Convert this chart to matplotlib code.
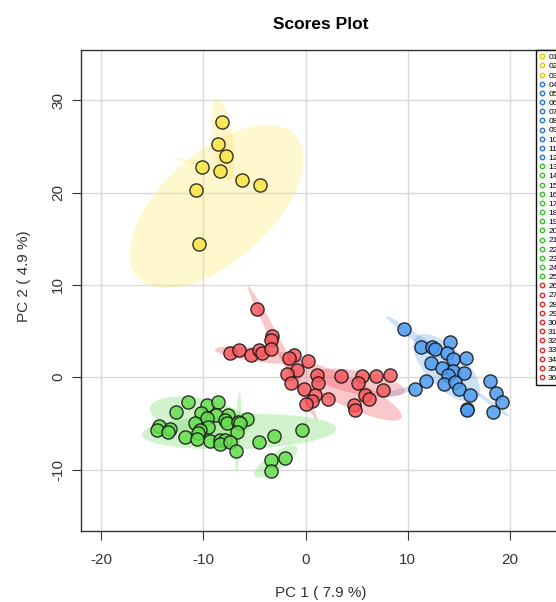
import numpy as np
import matplotlib
matplotlib.use("Agg")
import matplotlib.pyplot as plt
from matplotlib.patches import Ellipse
from matplotlib.lines import Line2D

plt.rcParams['font.family'] = ['Liberation Sans', 'DejaVu Sans']
plt.rcParams['axes.unicode_minus'] = False

# scores, by colour cluster
yellow_x = [-8.14, -8.53, -7.75, -10.10, -8.40, -6.18, -4.48, -10.74, -10.39]
yellow_y = [27.6, 25.3, 24.0, 22.8, 22.3, 21.4, 20.8, 20.3, 14.4]

red_x = [-4.72, -3.25, -3.41, -7.39, -6.51, -5.36, -4.55, -4.23, -3.41, -1.10,
         -1.59, 0.28, -0.80, -1.78, 1.09, -1.42, 1.25, -0.15, 0.93, 0.64,
         0.05, 2.20, 3.50, 5.56, 6.87, 8.27, 5.14, 7.61, 5.82, 6.24, 4.75, 4.84]
red_y = [7.42, 4.46, 4.03, 2.59, 2.91, 2.37, 2.95, 2.66, 3.02, 2.44,
         2.05, 1.79, 0.81, 0.31, 0.24, -0.66, -0.66, -1.28, -1.93, -2.55,
         -2.90, -2.39, 0.10, 0.16, 0.16, 0.21, -0.66, -1.42, -1.93, -2.36, -3.01, -3.55]

green_x = [-11.53, -12.70, -9.67, -8.53, -10.22, -8.76, -9.67, -7.61, -5.69, -14.33,
           -14.50, -13.26, -13.42, -10.81, -9.51, -7.88, -7.71, -6.58, -6.41, -10.32,
           -10.49, -6.73, -11.79, -10.65, -9.34, -8.37, -7.88, -8.37, -7.39, -6.80,
           -4.55, -3.08, -0.37, -3.41, -1.98, -3.38]
green_y = [-2.72, -3.80, -3.01, -2.72, -3.91, -4.10, -4.45, -4.10, -4.53, -5.25,
           -5.72, -5.61, -5.97, -5.00, -5.36, -4.64, -5.00, -4.82, -5.00, -5.72,
           -6.08, -5.90, -6.51, -6.73, -6.91, -6.80, -6.80, -7.27, -6.99, -7.96,
           -7.02, -6.37, -5.72, -8.97, -8.75, -10.16]

blue_x = [9.64, 11.30, 12.35, 12.67, 14.14, 13.82, 14.40, 15.70, 12.28, 13.33,
          14.46, 15.51, 13.97, 11.79, 10.71, 13.58, 14.63, 15.05, 16.10, 18.05,
          18.64, 19.26, 18.32, 15.77, 15.80]
blue_y = [5.19, 3.31, 3.31, 3.02, 3.81, 2.66, 1.97, 2.11, 1.57, 0.96,
          0.70, 0.42, 0.24, -0.41, -1.28, -0.77, -0.49, -1.28, -1.93, -0.38,
          -1.75, -2.65, -3.80, -3.48, -3.60]

# 95% ellipses: centre x, centre y, width, height, angle
yellow_ell = [(-8.7, 18.5, 21.8, 11.2, 47), (-8.1, 25.7, 8.8, 2.0, 97), (-8.3, 22.2, 9.9, 0.35, -20)]
red_ell = [(-2.25, 2.6, 16.0, 0.9, -65), (-4.6, 2.4, 8.6, 1.5, -8),
           (3.7, -1.4, 12.9, 3.0, -28), (5.3, -0.6, 9.0, 2.5, -12)]
green_ell = [(-6.5, -5.9, 19.0, 3.8, 2), (-10.3, -4.3, 10.0, 4.0, -12),
             (-6.6, -5.9, 8.7, 0.5, 88), (-2.9, -9.15, 5.2, 1.8, 38)]
blue_ell = [(13.8, 1.0, 9.0, 4.0, -50), (11.2, 4.0, 8.3, 0.8, -38),
            (18.2, -2.85, 4.6, 0.4, -39), (9.1, -1.6, 3.8, 0.6, 17)]

group_labels = [f"{i:02d}" for i in range(1, 37)]
group_counts = [3, 9, 13, 11]   # yellow, blue, green, red

ell_cols = ['#FFE34D', '#4A90E2', '#5BD64B', '#F03C46']
pt_cols = ['#F9E547', '#4D9BEF', '#66DD4F', '#F55A5F']
leg_cols = ['#E8C800', '#2F74D8', '#3EBB2E', '#E82828']

fig = plt.figure(figsize=(5.56, 6.02), dpi=100)
ax = fig.add_axes([81/556, 1-531/602, 480/556, 481/602])

ax.set_xlim(-21.97, 25.0)
ax.set_ylim(-16.66, 35.45)
ax.set_xticks([-20, -10, 0, 10, 20])
ax.set_yticks([-10, 0, 10, 20, 30])
ax.grid(True, color='#DADADA', lw=1)
ax.set_axisbelow(True)

for ells, c in zip([yellow_ell, blue_ell, green_ell, red_ell], ell_cols):
    for (cx, cy, w, h, a) in ells:
        ax.add_patch(Ellipse((cx, cy), w, h, angle=a, facecolor=c, edgecolor='none', alpha=0.28, zorder=1))

for xs, ys, c in zip([yellow_x, blue_x, green_x, red_x], [yellow_y, blue_y, green_y, red_y], pt_cols):
    ax.scatter(xs, ys, s=90, facecolor=c, edgecolor='#111111', linewidth=1.0, alpha=0.85, zorder=3)

for s in ax.spines.values():
    s.set_color('#333333')
    s.set_linewidth(1.0)
ax.tick_params(axis='both', length=6.5, width=0.8, color='#333333', labelsize=11, labelcolor='#333333')
ax.tick_params(axis='x', pad=9)
ax.tick_params(axis='y', pad=5, labelrotation=90)
for t in ax.get_yticklabels():
    t.set_va('center')

ax.set_title('Scores Plot', fontsize=12.5, fontweight='bold', pad=15)
ax.set_xlabel('PC 1 ( 7.9 %)', fontsize=11, color='#333333')
ax.set_ylabel('PC 2 ( 4.9 %)', fontsize=11, color='#333333')
ax.xaxis.set_label_coords(0.5, -0.114)
ax.yaxis.set_label_coords(-0.105, 0.53)

handles = []
k = 0
for n, c in zip(group_counts, leg_cols):
    for _ in range(n):
        handles.append(Line2D([], [], ls='none', marker='o', markersize=3.2,
                              markerfacecolor='#FFFFFF', markeredgecolor=c, markeredgewidth=1.0,
                              label=group_labels[k]))
        k += 1
leg = ax.legend(handles=handles, loc='upper right', fontsize=6, frameon=True, fancybox=False,
                borderaxespad=0, labelspacing=0.16, handlelength=0.6, handletextpad=0.5,
                borderpad=0.4)
leg.get_frame().set_edgecolor('#111111')
leg.get_frame().set_linewidth(1.0)
leg.get_frame().set_alpha(1)

fig.savefig('out.png', dpi=100)
